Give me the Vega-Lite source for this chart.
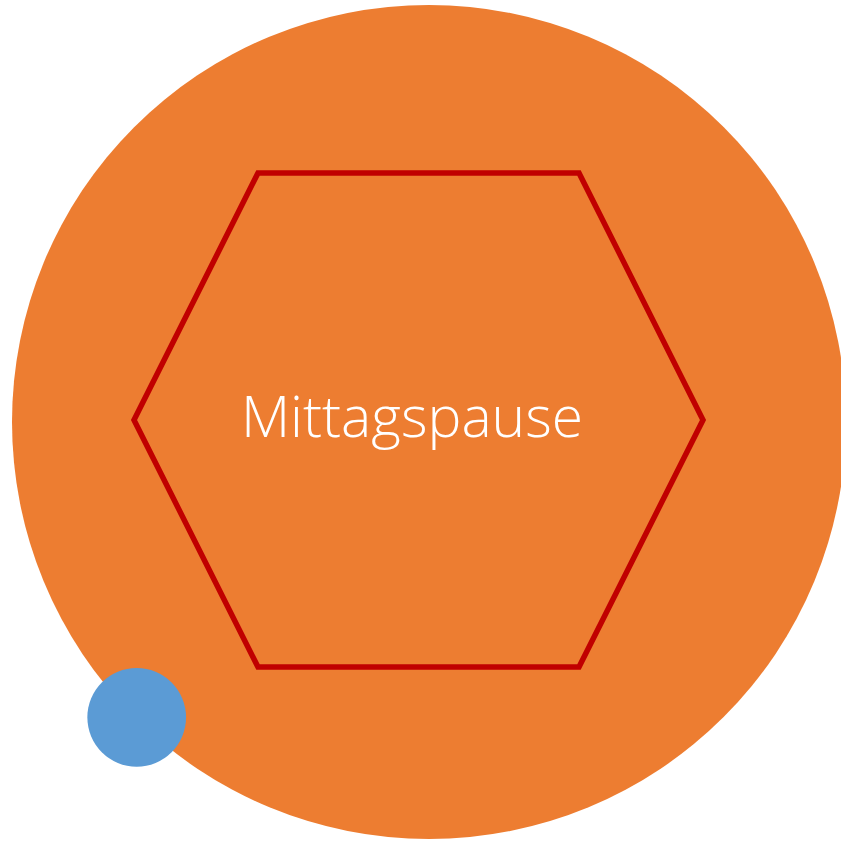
{
  "$schema": "https://vega.github.io/schema/vega-lite/v6.json",
  "width": 841,
  "height": 842,
  "padding": 0,
  "autosize": "none",
  "background": "white",
  "config": {"view": {"stroke": null}},
  "datasets": {
    "big": [{"x": 429, "y": 422, "name": "outer"}],
    "small": [{"x": 136.7, "y": 717.3, "name": "dot"}],
    "hex": [
      {"i": 0, "x": 418.5, "y": 173},
      {"i": 1, "x": 579, "y": 173},
      {"i": 2, "x": 703, "y": 420},
      {"i": 3, "x": 579, "y": 667},
      {"i": 4, "x": 258, "y": 667},
      {"i": 5, "x": 134, "y": 420},
      {"i": 6, "x": 258, "y": 173},
      {"i": 7, "x": 418.5, "y": 173}
    ],
    "label": [{"x": 412, "y": 437, "text": "Mittagspause"}]
  },
  "layer": [
    {
      "data": {"name": "big"},
      "mark": {"type": "point", "shape": "circle", "filled": true, "size": 695556, "color": "#ED7D31", "opacity": 1, "strokeWidth": 0},
      "encoding": {
        "x": {"field": "x", "type": "quantitative", "scale": {"domain": [0, 841], "nice": false, "zero": false}, "axis": null},
        "y": {"field": "y", "type": "quantitative", "scale": {"domain": [0, 842], "nice": false, "zero": false, "reverse": true}, "axis": null}
      }
    },
    {
      "data": {"name": "hex"},
      "mark": {"type": "line", "color": "#C00000", "strokeWidth": 5.5, "strokeJoin": "miter"},
      "encoding": {
        "x": {"field": "x", "type": "quantitative", "scale": {"domain": [0, 841], "nice": false, "zero": false}, "axis": null},
        "y": {"field": "y", "type": "quantitative", "scale": {"domain": [0, 842], "nice": false, "zero": false, "reverse": true}, "axis": null},
        "order": {"field": "i", "type": "quantitative"}
      }
    },
    {
      "data": {"name": "label"},
      "mark": {"type": "text", "font": "Open Sans", "fontWeight": 300, "fontSize": 57, "color": "white", "align": "center", "baseline": "alphabetic"},
      "encoding": {
        "x": {"field": "x", "type": "quantitative", "scale": {"domain": [0, 841], "nice": false, "zero": false}, "axis": null},
        "y": {"field": "y", "type": "quantitative", "scale": {"domain": [0, 842], "nice": false, "zero": false, "reverse": true}, "axis": null},
        "text": {"field": "text"}
      }
    },
    {
      "data": {"name": "small"},
      "mark": {"type": "point", "shape": "circle", "filled": true, "size": 9740, "color": "#5B9BD5", "opacity": 1, "strokeWidth": 0},
      "encoding": {
        "x": {"field": "x", "type": "quantitative", "scale": {"domain": [0, 841], "nice": false, "zero": false}, "axis": null},
        "y": {"field": "y", "type": "quantitative", "scale": {"domain": [0, 842], "nice": false, "zero": false, "reverse": true}, "axis": null}
      }
    }
  ]
}
